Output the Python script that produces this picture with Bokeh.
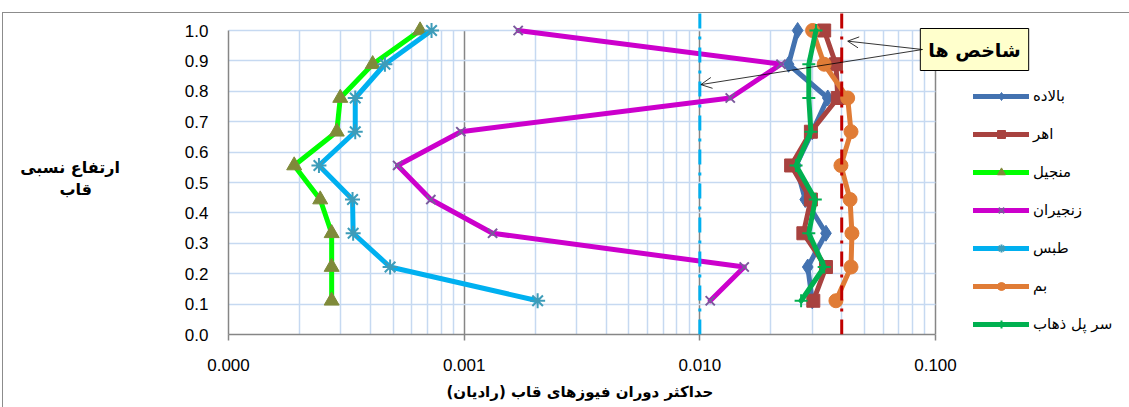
import math

from bokeh.plotting import figure
from bokeh.models import (Range1d, FixedTicker, Legend, LegendItem, Label,
                          Arrow, OpenHead, Title)
from bokeh.embed import file_html
from bokeh.resources import INLINE

# Relative storey height (storey / 9) for each of the nine storeys
story_levels = [0.111, 0.222, 0.333, 0.444, 0.556, 0.667, 0.778, 0.889, 1.0]

# Maximum frame-fuse rotation (rad) per storey, bottom to top, for each record
series_names = ["بالاده", "اهر", "منجیل", "زنجیران", "طبس", "بم", "سر پل ذهاب"]
baladeh = [0.0300, 0.0287, 0.0343, 0.0280, 0.0256, 0.0300, 0.0349, 0.0238, 0.0260]
ahar = [0.0303, 0.0343, 0.0275, 0.0296, 0.0244, 0.0296, 0.0385, 0.0378, 0.0337]
manjil = [0.000274, 0.000274, 0.000274, 0.000245, 0.000190, 0.000288, 0.000298, 0.000409, 0.000650]
zanjiran = [0.01107, 0.01543, 0.00132, 0.000722, 0.000522, 0.000968, 0.01346, 0.0221, 0.001695]
tabas = [0.00205, 0.000485, 0.000338, 0.000336, 0.000242, 0.000345, 0.000345, 0.000461, 0.000727]
bam = [0.0378, 0.0438, 0.0442, 0.0434, 0.0397, 0.0438, 0.0424, 0.0337, 0.0301]
sarpol = [0.0269, 0.0337, 0.0290, 0.0309, 0.0256, 0.0296, 0.0290, 0.0290, 0.0311]
series_values = [baladeh, ahar, manjil, zanjiran, tabas, bam, sarpol]

# Performance limits (rad)
limit_values = [0.01, 0.04]
limit_colors = ["#00B0F0", "#C00000"]
callout_text = "شاخص ها"

x_ticks = [0.0001, 0.001, 0.01, 0.1]
x_tick_labels = ["0.000", "0.001", "0.010", "0.100"]
y_ticks = [0.0, 0.1, 0.2, 0.3, 0.4, 0.5, 0.6, 0.7, 0.8, 0.9, 1.0]
y_tick_labels = ["0.0", "0.1", "0.2", "0.3", "0.4", "0.5", "0.6", "0.7", "0.8", "0.9", "1.0"]
x_title = "حداکثر دوران فیوزهای قاب (رادیان)"
# a blank first line lowers the block; the last line is padded with
# no-break spaces so it sits centred under the first
NBSP = "\u00a0"
y_title = NBSP + "\n" + "ارتفاع نسبی" + "\n" + "قاب" + NBSP * 5

styles = [
    dict(line="#4372B0", marker="diamond", mcolor="#4372B0", size=16, mwidth=1),
    dict(line="#A8423F", marker="square", mcolor="#A8423F", size=13, mwidth=1),
    dict(line="#00FF00", marker="triangle", mcolor="#7F8A3A", size=15, mwidth=1),
    dict(line="#CC00CC", marker="x", mcolor="#7A5A9C", size=13, mwidth=2),
    dict(line="#00B0F0", marker="asterisk", mcolor="#3E9CB9", size=15, mwidth=2),
    dict(line="#E07C36", marker="circle", mcolor="#E07C36", size=14, mwidth=1),
    dict(line="#00B050", marker="cross", mcolor="#00B050", size=13, mwidth=2),
]

ARABIC_FONT = "DejaVu Sans"
GRID_BLUE = "#C6D9F1"
AXIS_GRAY = "#868686"

# Page geometry (px): the plotting area sits inside a larger frame so that the
# legend, callout and limit lines can share the frame's coordinates.
W, H = 1129, 407
AREA_LEFT, AREA_RIGHT, AREA_TOP, AREA_BOTTOM = 228, 935, 30, 334
x_min, x_max = x_ticks[0], x_ticks[-1]
y_min, y_max = y_ticks[0], y_ticks[-1]
px_per_decade = (AREA_RIGHT - AREA_LEFT) / (math.log10(x_max) - math.log10(x_min))
x_end = 10 ** (math.log10(x_max) + (W - AREA_RIGHT) / px_per_decade)
y_end = y_max + AREA_TOP * (y_max - y_min) / (AREA_BOTTOM - AREA_TOP)

p = figure(width=W, height=H, x_axis_type="log",
           x_range=Range1d(x_min, x_end), y_range=Range1d(y_min, y_end),
           output_backend="svg", toolbar_location=None,
           min_border_left=AREA_LEFT, min_border_right=0,
           min_border_top=0, min_border_bottom=H - AREA_BOTTOM)
p.outline_line_color = None
p.background_fill_color = None
p.border_fill_color = None
# Thin chart border along the left and top edges
p.styles = {
    "background-color": "white",
    "background-image": "linear-gradient(#8C8C8C, #8C8C8C), linear-gradient(#8C8C8C, #8C8C8C)",
    "background-size": "1px 100%, 100% 1px",
    "background-position": "2px 12px, 2px 12px",
    "background-repeat": "no-repeat",
}

# Axes and grids
minor_x = [m * d for d in x_ticks[:-1] for m in range(2, 10)]
x_ticker = FixedTicker(ticks=x_ticks, minor_ticks=minor_x)
y_ticker = FixedTicker(ticks=y_ticks)
p.xaxis.ticker = x_ticker
p.xgrid.ticker = x_ticker
p.yaxis.ticker = y_ticker
p.ygrid.ticker = y_ticker
p.xaxis.bounds = (x_min, x_max)
p.yaxis.bounds = (y_min, y_max)
p.xgrid.cross_bounds = (y_min, y_max)
p.ygrid.cross_bounds = (x_min, x_max)

p.xaxis.major_label_overrides = dict(zip(x_ticks, x_tick_labels))
p.yaxis.major_label_overrides = dict(zip(y_ticks, y_tick_labels))

p.xgrid.grid_line_color = AXIS_GRAY
p.xgrid.grid_line_width = 1.5
p.xgrid.minor_grid_line_color = GRID_BLUE
p.xgrid.minor_grid_line_width = 1.5
p.ygrid.grid_line_color = GRID_BLUE
p.ygrid.grid_line_width = 1.5

for ax in (p.xaxis, p.yaxis):
    ax.axis_line_color = AXIS_GRAY
    ax.axis_line_width = 1.5
    ax.minor_tick_line_color = None
    ax.major_label_text_font = "Liberation Sans"
    ax.major_label_text_font_size = "17px"
    ax.major_label_text_color = "black"

p.xaxis.major_tick_line_color = AXIS_GRAY
p.xaxis.major_tick_line_width = 1.5
p.xaxis.major_tick_out = 6
p.xaxis.major_tick_in = 0
p.xaxis.major_label_standoff = 18
p.yaxis.major_tick_line_color = None
p.yaxis.major_tick_out = 0
p.yaxis.major_tick_in = 0
p.yaxis.major_label_standoff = 20

p.yaxis.axis_label = y_title
p.yaxis.axis_label_orientation = "horizontal"
p.yaxis.axis_label_standoff = 62
p.yaxis.axis_label_text_font = ARABIC_FONT
p.yaxis.axis_label_text_font_size = "16px"
p.yaxis.axis_label_text_font_style = "bold"
p.yaxis.axis_label_text_color = "black"
p.yaxis.axis_label_text_line_height = 1.15

x_title_left = 446
p.add_layout(Title(text=x_title, align="left", offset=x_title_left - AREA_LEFT, standoff=14,
                   text_font=ARABIC_FONT, text_font_size="15px",
                   text_font_style="bold", text_color="black"), "below")

# Storey drift profiles
items = []
for name, vals, st in zip(series_names, series_values, styles):
    r_line = p.line(x=vals, y=story_levels, line_color=st["line"], line_width=5,
                    line_join="round", line_cap="round")
    filled = st["marker"] in ("diamond", "square", "triangle", "circle")
    r_mark = p.scatter(x=vals, y=story_levels, marker=st["marker"], size=st["size"],
                       fill_color=st["mcolor"] if filled else None,
                       line_color=st["mcolor"], line_width=st["mwidth"])
    items.append(LegendItem(label=name, renderers=[r_line, r_mark]))

# Limit lines, running up to the chart's top edge
limit_top = y_max + (AREA_TOP - 12) * (y_max - y_min) / (AREA_BOTTOM - AREA_TOP)
for lim, col in zip(limit_values, limit_colors):
    p.add_layout(Arrow(end=None, x_start=lim, y_start=y_min, x_end=lim, y_end=limit_top,
                       line_color=col, line_width=3, line_dash="15 8 3 8"))

legend = Legend(items=items, location=(745, 0), orientation="vertical",
                glyph_width=56, glyph_height=20, label_height=20, spacing=18,
                label_standoff=4, padding=0, margin=0,
                border_line_color=None, background_fill_alpha=0,
                label_text_font=ARABIC_FONT, label_text_font_size="15px",
                label_text_color="black")
p.add_layout(legend)

# Callout pointing at the limit lines
callout = Label(x=746, y=285, x_units="screen", y_units="screen", text=callout_text,
                text_align="center", text_baseline="middle",
                text_font=ARABIC_FONT, text_font_size="19px", text_font_style="bold",
                text_color="black", background_fill_color="#FFFFCC",
                border_line_color="black", border_line_width=1, padding=(8, 10))
p.add_layout(callout)
for (tx, ty) in [(limit_values[1] * 1.06, 0.965), (limit_values[0] * 1.01, 0.822)]:
    p.add_layout(Arrow(end=OpenHead(size=11, line_width=0.8, line_color="black"),
                       x_start=694, y_start=285, start_units="screen",
                       x_end=tx, y_end=ty, end_units="data",
                       line_color="black", line_width=0.8))

open("out.html", "w").write(file_html(p, INLINE))
